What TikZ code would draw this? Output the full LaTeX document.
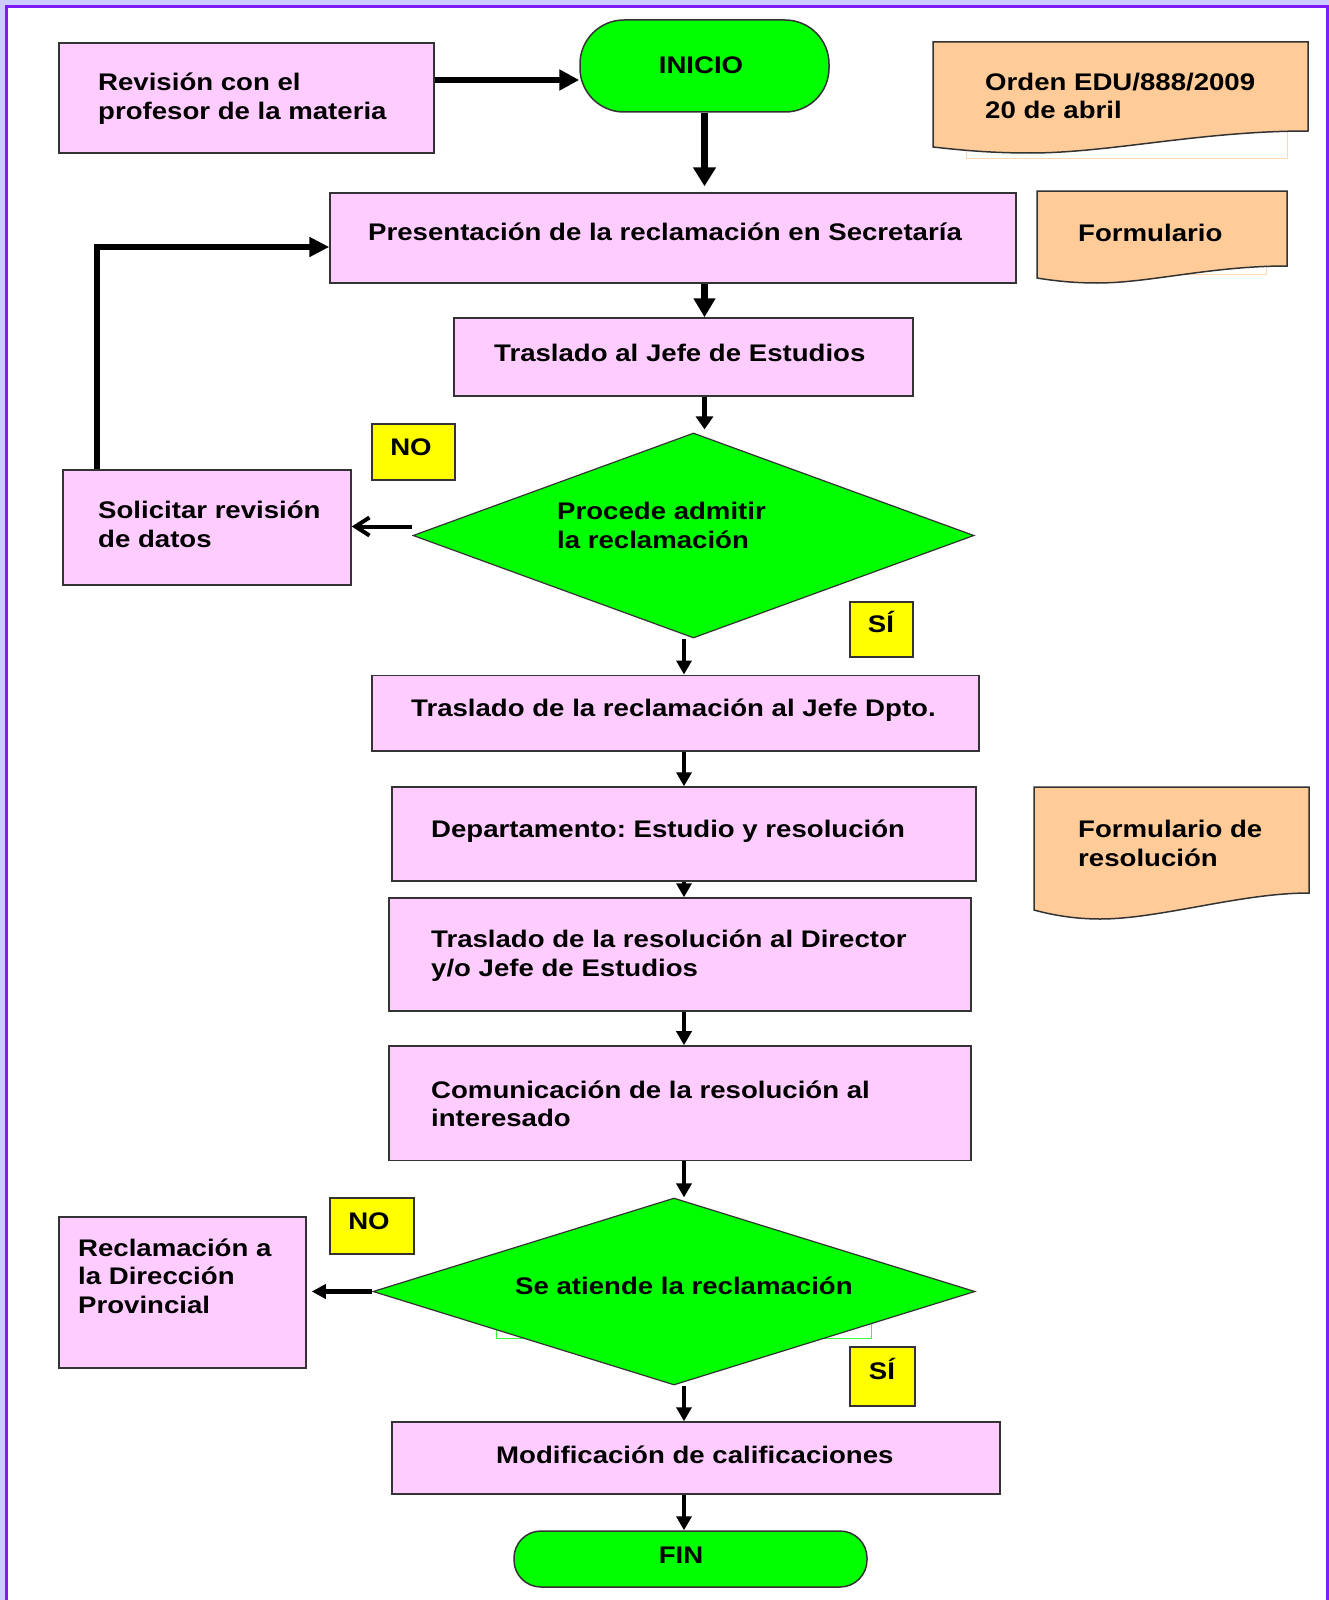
\documentclass[tikz,border=0pt]{standalone}
\usepackage{fontspec}
\newfontfamily\lab{Liberation Sans}[FakeStretch=1.15]
\usetikzlibrary{arrows.meta,shapes.geometric}
\definecolor{pinkc}{HTML}{FFCCFF}
\definecolor{greenc}{HTML}{00FF00}
\definecolor{orangec}{HTML}{FFCC99}
\definecolor{yellowc}{HTML}{FFFF00}
\definecolor{lavc}{HTML}{CCCCFF}
\definecolor{purpc}{HTML}{7A1CFF}
\definecolor{edgec}{HTML}{333333}
\definecolor{faintor}{HTML}{FFD9B3}
\definecolor{faintgr}{HTML}{33FF33}
\frenchspacing
\begin{document}
\begin{tikzpicture}[x=1pt,y=-1pt,
  box/.style={rectangle,draw=edgec,line width=1.5pt,fill=pinkc,inner sep=0pt},
  yes/.style={rectangle,draw=edgec,line width=1.5pt,fill=yellowc,inner sep=0pt},
  term/.style={rectangle,draw=edgec,line width=1.5pt,fill=greenc,inner sep=0pt},
  dec/.style={diamond,draw=edgec,line width=1.2pt,fill=greenc,inner sep=0pt},
  docshape/.style={draw=edgec,line width=1.5pt,fill=orangec},
  lbl/.style={font={\lab\bfseries\fontsize{24}{28.5}\selectfont\frenchspacing},inner sep=0pt,align=left,anchor=base west},
  clbl/.style={font={\lab\bfseries\fontsize{24}{28.5}\selectfont},inner sep=0pt,anchor=base},
  arr/.style={draw=black,line width=4.5pt,-{Triangle[length=14pt,width=15pt]}},
  bigarr/.style={draw=black,line width=6.5pt,-{Triangle[length=19pt,width=21pt]}},
]
\useasboundingbox (0,0) rectangle (1329,1600);
% frame
\fill[lavc] (0,0) rectangle (1329,1600);
\fill[white] (7,7) rectangle (1329,1600);
\draw[purpc,line width=3pt] (6.5,1600) -- (6.5,6.5) -- (1327.5,6.5) -- (1327.5,1600);

% faint artifacts
\draw[faintor,line width=1pt] (966,140) -- (966,158) -- (1287,158) -- (1287,131);
\draw[faintor,line width=1pt] (1266,262) -- (1266,274) -- (1060,274);
\draw[faintgr,line width=1pt] (496,1300) rectangle (871,1338);

% document shapes
\draw[docshape] (933,42) -- (1308,42) -- (1308,131)
  .. controls (1200,131) and (1110,153) .. (1030,153)
  .. controls (990,153) and (960,150) .. (933,147) -- cycle;
\draw[docshape] (1037,191) -- (1287,191) -- (1287,266)
  .. controls (1210,266) and (1150,283) .. (1097,283)
  .. controls (1075,283) and (1055,281) .. (1037,278) -- cycle;
\draw[docshape] (1034,787) -- (1309,787) -- (1309,893)
  .. controls (1240,893) and (1160,919) .. (1100,919)
  .. controls (1075,919) and (1052,915) .. (1034,910) -- cycle;

% nodes
\node[box,minimum width=375pt,minimum height=110pt] (rev) at (246.5,98) {};
\node[term,rounded corners=44pt,minimum width=249pt,minimum height=92pt] (ini) at (704.5,66) {};
\node[box,minimum width=686pt,minimum height=90pt] (pres) at (673,238) {};
\node[box,minimum width=459pt,minimum height=78pt] (tje) at (683.5,357) {};
\node[dec,minimum width=561pt,minimum height=205pt] (d1) at (693.5,535.5) {};
\node[yes,minimum width=83pt,minimum height=56pt] (no1) at (413.5,452) {};
\node[box,minimum width=288pt,minimum height=115pt] (sol) at (207,527.5) {};
\node[yes,minimum width=63pt,minimum height=55pt] (si1) at (881.5,629.5) {};
\node[box,minimum width=607pt,minimum height=75.5pt] (tdp) at (675.5,713) {};
\node[box,minimum width=584pt,minimum height=94pt] (dep) at (684,834) {};
\node[box,minimum width=582pt,minimum height=113pt] (tres) at (680,954.5) {};
\node[box,minimum width=582pt,minimum height=114.5pt] (com) at (680,1103.2) {};
\node[dec,minimum width=602pt,minimum height=187pt] (d2) at (674,1291.5) {};
\node[yes,minimum width=84pt,minimum height=56pt] (no2) at (372,1226) {};
\node[box,minimum width=247pt,minimum height=151pt] (rec) at (182.5,1292.5) {};
\node[yes,minimum width=65pt,minimum height=59pt] (si2) at (882.5,1376.5) {};
\node[box,minimum width=608pt,minimum height=72pt] (mod) at (696,1458) {};
\node[term,rounded corners=27pt,minimum width=353pt,minimum height=56pt] (fin) at (690.5,1559) {};

% texts (multi-line nodes are placed by the baseline of their last line)
\node[lbl] (trev) at (98,119.5) {Revisión con el\\profesor de la materia};
\node[clbl] (tini) at (701,73.5) {INICIO};
\node[lbl] (tord) at (985,119) {Orden EDU/888/2009\\20 de abril};
\node[lbl] (tfor) at (1078,241) {Formulario};
\node[lbl] (tpres) at (368,240) {Presentación de la reclamación en Secretaría};
\node[lbl] (ttje) at (494,361) {Traslado al Jefe de Estudios};
\node[clbl] (tno1) at (411,455) {NO};
\node[lbl] (td1) at (557,548) {Procede admitir\\la reclamación};
\node[lbl] (tsol) at (98,547) {Solicitar revisión\\de datos};
\node[clbl] (tsi1) at (881,632) {SÍ};
\node[lbl] (ttdp) at (411,716) {Traslado de la reclamación al Jefe Dpto.};
\node[lbl] (tdep) at (431,837.5) {Departamento: Estudio y resolución};
\node[lbl] (ttres) at (431,976) {Traslado de la resolución al Director\\y/o Jefe de Estudios};
\node[lbl] (tcom) at (431,1126.5) {Comunicación de la resolución al\\interesado};
\node[lbl] (tfres) at (1078,866) {Formulario de\\resolución};
\node[lbl] (td2) at (515,1294) {Se atiende la reclamación};
\node[clbl] (tno2) at (369,1229) {NO};
\node[lbl] (trec) at (78,1313) {Reclamación a\\la Dirección\\Provincial};
\node[clbl] (tsi2) at (882,1379) {SÍ};
\node[lbl] (tmod) at (496,1463) {Modificación de calificaciones};
\node[clbl] (tfin) at (681,1563) {FIN};

% column coordinate for the lower arrows
\coordinate (colB) at (684,0);

% connectors
\draw[draw=black,line width=6pt,-{Triangle[length=20pt,width=20pt]}]
  ([yshift=18pt]rev.east) -- ([yshift=18pt]rev.east -| ini.west);
\draw[draw=black,line width=7.5pt,-{Triangle[length=19pt,width=22pt]},shorten >=6pt]
  (ini.south) -- (ini.south |- pres.north);
\draw[draw=black,line width=6pt,-{Triangle[length=20pt,width=19pt]}]
  ([xshift=35pt]sol.north west) |- ([yshift=-9pt]pres.west);
\draw[bigarr] (pres.south -| ini.south) -- (tje.north -| ini.south);
\draw[draw=black,line width=5.5pt,-{Triangle[length=13pt,width=17pt]},shorten >=3pt]
  (tje.south -| ini.south) -- (d1.north -| ini.south);
\draw[draw=black,line width=4pt,-{Straight Barb[length=14pt,width=18pt,line width=4pt]}]
  ([yshift=9pt]d1.west) -- ([yshift=9pt]d1.west -| sol.east);
\draw[arr] (d1.south -| colB) -- (tdp.north -| colB);
\draw[arr] (tdp.south -| colB) -- (dep.north -| colB);
\draw[arr] (dep.south -| colB) -- (tres.north -| colB);
\draw[arr] (tres.south -| colB) -- (com.north -| colB);
\draw[arr] (com.south -| colB) -- (d2.north -| colB);
\draw[draw=black,line width=4.7pt,-{Triangle[length=14pt,width=14pt]},shorten >=5pt]
  (d2.west) -- (d2.west -| rec.east);
\draw[arr] (d2.south -| colB) -- (mod.north -| colB);
\draw[arr] (mod.south -| colB) -- (fin.north -| colB);
\end{tikzpicture}
\end{document}
